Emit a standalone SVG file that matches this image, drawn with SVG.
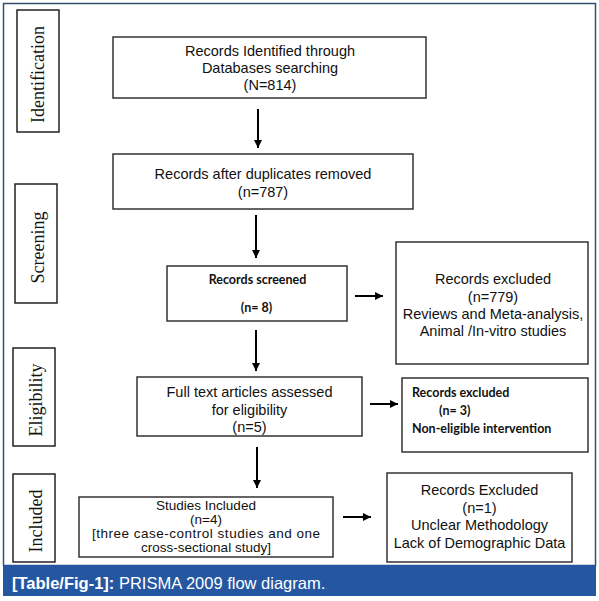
<svg xmlns="http://www.w3.org/2000/svg" width="599" height="601" viewBox="0 0 599 601">
<style>
.box{fill:#fff;stroke:#333;stroke-width:1.5}
.side{fill:#fff;stroke:#222;stroke-width:1.5}
.t{font-family:"Liberation Sans",Arial,sans-serif;font-size:14.5px;fill:#111;text-anchor:middle}
.t2{font-family:"Liberation Sans",Arial,sans-serif;font-size:13.5px;fill:#111;text-anchor:middle}
.c{font-family:Lato,"Liberation Sans",sans-serif;font-size:12.5px;font-weight:bold;fill:#111}
.s{font-family:"Liberation Serif","Times New Roman",serif;font-size:18px;fill:#111;text-anchor:middle}
.cap{font-family:"Liberation Sans",Arial,sans-serif;font-size:16.5px;fill:#fff}
.conn line{stroke:#000;stroke-width:2}
</style>
<defs>
<marker id="ah" viewBox="0 0 10 10" refX="10" refY="5" markerWidth="4" markerHeight="4" markerUnits="strokeWidth" orient="auto">
<path d="M0,0 L10,5 L0,10 z" fill="#000"/>
</marker>
</defs>
<rect x="0" y="0" width="599" height="601" fill="#fff"/>
<rect x="3.5" y="3.5" width="592" height="562" fill="#fff" stroke="#34506e" stroke-width="1.5"/>
<rect x="3" y="565" width="593" height="31" fill="#24579f"/>
<text class="cap" x="12" y="588.5"><tspan font-weight="bold">[Table/Fig-1]:</tspan> PRISMA 2009 flow diagram.</text>

<g id="side-identification"><rect class="side" x="17" y="10" width="42" height="122"/><text class="s" transform="translate(44,74.5) rotate(-90)">Identification</text></g>
<g id="side-screening"><rect class="side" x="15" y="184" width="42" height="119"/><text class="s" transform="translate(44,247.5) rotate(-90)">Screening</text></g>
<g id="side-eligibility"><rect class="side" x="13" y="348" width="42" height="98"/><text class="s" transform="translate(42,400) rotate(-90)">Eligibility</text></g>
<g id="side-included"><rect class="side" x="13" y="474" width="42" height="88"/><text class="s" transform="translate(42,521) rotate(-90)">Included</text></g>

<g id="identified"><rect class="box" x="113" y="37" width="313" height="61"/>
<text class="t" x="270" y="55.5">Records Identified through</text>
<text class="t" x="270" y="73">Databases searching</text>
<text class="t" x="270" y="90">(N=814)</text></g>

<g id="duplicates"><rect class="box" x="113" y="154" width="300" height="55"/>
<text class="t" x="263" y="179">Records after duplicates removed</text>
<text class="t" x="263" y="197">(n=787)</text></g>

<g id="screened"><rect class="box" x="167" y="266" width="180" height="55"/>
<text class="c" x="257.5" y="284" text-anchor="middle">Records screened</text>
<text class="c" x="256.5" y="312" text-anchor="middle">(n= 8)</text></g>

<g id="excluded1"><rect class="box" x="396" y="242" width="192" height="122"/>
<text class="t" x="493" y="284">Records excluded</text>
<text class="t" x="493" y="302">(n=779)</text>
<text class="t" x="493" y="319">Reviews and Meta-analysis,</text>
<text class="t" x="493" y="336">Animal /In-vitro studies</text></g>

<g id="fulltext"><rect class="box" x="137" y="377" width="225" height="59"/>
<text class="t" x="249.5" y="397">Full text articles assessed</text>
<text class="t" x="249.5" y="414.5">for eligibility</text>
<text class="t" x="249.5" y="432">(n=5)</text></g>

<g id="excluded2"><rect class="box" x="402" y="378" width="186" height="74"/>
<text class="c" x="412" y="397">Records excluded</text>
<text class="c" x="439" y="415">(n= 3)</text>
<text class="c" x="412" y="433">Non-eligible intervention</text></g>

<g id="included"><rect class="box" x="79" y="497" width="254" height="60"/>
<text class="t2" x="206" y="510">Studies Included</text>
<text class="t2" x="206" y="524">(n=4)</text>
<text class="t2" x="206" y="538" textLength="228" lengthAdjust="spacing">[three case-control studies and one</text>
<text class="t2" x="206" y="552">cross-sectional study]</text></g>

<g id="excluded3"><rect class="box" x="387" y="473" width="185" height="89"/>
<text class="t" x="479.5" y="495">Records Excluded</text>
<text class="t" x="479.5" y="513">(n=1)</text>
<text class="t" x="479.5" y="530">Unclear Methodology</text>
<text class="t" x="479.5" y="548">Lack of Demographic Data</text></g>

<g id="connectors" class="conn">
<line x1="258" y1="109" x2="258" y2="148" marker-end="url(#ah)"/>
<line x1="256" y1="215" x2="256" y2="258" marker-end="url(#ah)"/>
<line x1="256" y1="330" x2="256" y2="371" marker-end="url(#ah)"/>
<line x1="257" y1="447" x2="257" y2="488" marker-end="url(#ah)"/>
<line x1="355" y1="296" x2="383" y2="296" marker-end="url(#ah)"/>
<line x1="370" y1="404" x2="398" y2="404" marker-end="url(#ah)"/>
<line x1="343" y1="517" x2="371" y2="517" marker-end="url(#ah)"/>
</g>
</svg>
